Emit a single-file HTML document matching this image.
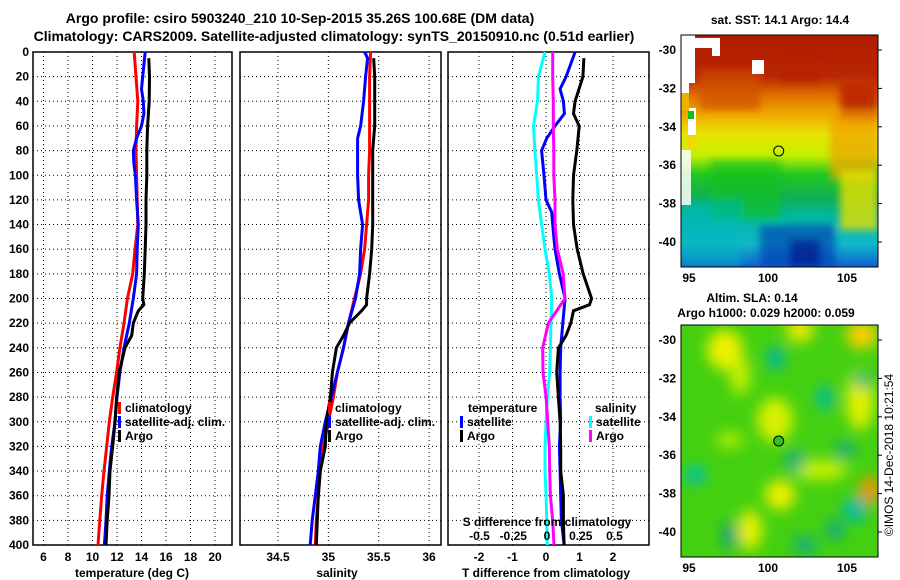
<!DOCTYPE html>
<html><head><meta charset="utf-8">
<style>
html,body{margin:0;padding:0;background:#fff;}
svg{display:block;font-family:"Liberation Sans",sans-serif;font-weight:bold;}
</style></head>
<body>
<svg id="c" width="900" height="580" viewBox="0 0 900 580">
<defs>
<linearGradient id="sstg" x1="0" y1="0" x2="0" y2="1">
<stop offset="0" stop-color="#b21a00"/><stop offset="0.18" stop-color="#b82800"/>
<stop offset="0.26" stop-color="#e07000"/><stop offset="0.34" stop-color="#f0a800"/>
<stop offset="0.43" stop-color="#e8e400"/><stop offset="0.52" stop-color="#c4f000"/>
<stop offset="0.6" stop-color="#20c820"/><stop offset="0.7" stop-color="#10b050"/>
<stop offset="0.78" stop-color="#00b8a0"/><stop offset="0.9" stop-color="#10b8c8"/>
<stop offset="1" stop-color="#1060d0"/></linearGradient>
<filter id="bl" x="-20%" y="-20%" width="140%" height="140%"><feGaussianBlur stdDeviation="7"/></filter>
<filter id="bl2" x="-20%" y="-20%" width="140%" height="140%"><feGaussianBlur stdDeviation="4"/></filter>
<clipPath id="m1"><rect x="681" y="35" width="197" height="232"/></clipPath>
<clipPath id="m2"><rect x="681" y="325" width="197" height="232"/></clipPath>
</defs>
<g id="titles" font-size="14" text-anchor="middle">
<text x="300" y="23">Argo profile: csiro 5903240_210 10-Sep-2015 35.26S 100.68E (DM data)</text>
<text x="334" y="41">Climatology: CARS2009. Satellite-adjusted climatology: synTS_20150910.nc (0.51d earlier)</text>
</g>
<g id="p1"></g>
<g id="p2"></g>
<g id="p3"></g>

<g>
<text x="780" y="24" font-size="12" text-anchor="middle">sat. SST: 14.1 Argo: 14.4</text>
<g clip-path="url(#m1)">
<rect x="681" y="35" width="197" height="232" fill="url(#sstg)"/>
<g filter="url(#bl2)">
<rect x="700" y="70" width="60" height="40" fill="#d05000" opacity="0.7"/>
<rect x="840" y="80" width="38" height="40" fill="#c02a00"/>
<rect x="780" y="60" width="40" height="20" fill="#b82000"/>
<rect x="830" y="110" width="48" height="70" fill="#f0a000" opacity="0.7"/>
<rect x="840" y="170" width="38" height="60" fill="#e8e000" opacity="0.8"/>
<rect x="710" y="160" width="70" height="60" fill="#10c020" opacity="0.6"/>
<rect x="760" y="225" width="75" height="42" fill="#0830b0" opacity="0.6"/>
<rect x="790" y="240" width="30" height="27" fill="#000a80" opacity="0.6"/>
<rect x="681" y="200" width="60" height="67" fill="#00b8c0" opacity="0.5"/>
</g>
<rect x="681" y="35" width="14" height="48" fill="#fff"/>
<rect x="681" y="83" width="8" height="25" fill="#fff"/>
<rect x="695" y="38" width="18" height="10" fill="#fff"/>
<rect x="712" y="38" width="8" height="18" fill="#fff"/>
<rect x="752" y="60" width="12" height="14" fill="#fff"/>
<rect x="688" y="108" width="8" height="30" fill="#fff"/>
<rect x="681" y="150" width="10" height="55" fill="#fff" opacity="0.85"/>
<rect x="681" y="93" width="8" height="18" fill="#f0b000"/>
<rect x="688" y="135" width="9" height="12" fill="#f0d800"/>
<rect x="688" y="111" width="6" height="8" fill="#10c010"/>
</g>
<rect x="681" y="35" width="197" height="232" fill="none" stroke="#000"/>
<circle cx="778.7" cy="151" r="5" fill="none" stroke="#000"/>
</g>

<g>
<text x="752" y="302" font-size="12" text-anchor="middle">Altim. SLA: 0.14</text>
<text x="766" y="317" font-size="12" text-anchor="middle">Argo h1000: 0.029 h2000: 0.059</text>
<g clip-path="url(#m2)">
<rect x="681" y="325" width="197" height="232" fill="#44d010"/>
<g filter="url(#bl)">
<ellipse cx="725" cy="350" rx="18" ry="20" fill="#f0f000"/>
<ellipse cx="800" cy="330" rx="14" ry="12" fill="#f0e800"/>
<ellipse cx="862" cy="335" rx="16" ry="14" fill="#f8d000"/>
<ellipse cx="860" cy="400" rx="14" ry="30" fill="#e0f000"/>
<ellipse cx="870" cy="490" rx="10" ry="14" fill="#f89000"/>
<ellipse cx="775" cy="420" rx="18" ry="22" fill="#d8f000"/>
<ellipse cx="780" cy="495" rx="15" ry="15" fill="#f0f000"/>
<ellipse cx="750" cy="530" rx="12" ry="20" fill="#e8f000"/>
<ellipse cx="740" cy="375" rx="10" ry="20" fill="#c8f000"/>
<ellipse cx="730" cy="440" rx="14" ry="8" fill="#b0ec00"/>
<ellipse cx="820" cy="470" rx="28" ry="10" fill="#c8f000"/>
<ellipse cx="776" cy="358" rx="9" ry="12" fill="#00b8a0"/>
<ellipse cx="825" cy="398" rx="8" ry="12" fill="#00b8b0"/>
<ellipse cx="795" cy="461" rx="9" ry="11" fill="#10a890"/>
<ellipse cx="695" cy="475" rx="11" ry="9" fill="#00c0b0"/>
<ellipse cx="855" cy="510" rx="12" ry="12" fill="#00b8b0"/>
<ellipse cx="835" cy="530" rx="9" ry="10" fill="#10a888"/>
<ellipse cx="805" cy="545" rx="12" ry="8" fill="#10a890"/>
<ellipse cx="730" cy="535" rx="8" ry="14" fill="#10a080"/>
<ellipse cx="862" cy="380" rx="8" ry="8" fill="#10a890"/>
<ellipse cx="845" cy="450" rx="10" ry="8" fill="#10a890"/>
</g>
</g>
<rect x="681" y="325" width="197" height="232" fill="none" stroke="#000"/>
<circle cx="778.7" cy="441" r="5" fill="#30c020" stroke="#000"/>
</g>
<text transform="translate(893,455) rotate(-90)" font-size="12" font-weight="normal" text-anchor="middle">©IMOS 14-Dec-2018 10:21:54</text>
<g id="maxes"></g>

<script>
// ---- data ----
var depths = [0,20,40,60,80,100,120,140,160,180,200,220,240,260,280,300,320,340,360,380,400];
var tempClim = [13.4,13.55,13.7,13.6,13.55,13.6,13.65,13.7,13.47,13.28,12.85,12.57,12.24,11.97,11.65,11.37,11.16,10.94,10.75,10.6,10.45];
var tempSatDepths = [0,20,30,40,50,60,70,80,90,100,120,140,160,180,200,220,240,260,280,300,320,340,360,380,400];
var tempSat = [14.3,14.1,14.0,14.15,14.2,14.0,13.6,13.33,13.37,13.5,13.6,13.74,13.65,13.6,13.33,13.0,12.57,12.24,12.0,11.84,11.57,11.37,11.2,11.1,10.97];
var argoDepths = [5,20,40,60,80,100,120,140,160,180,200,205,210,220,230,240,260,280,300,320,340,360,380,400];
var tempArgo = [14.6,14.65,14.63,14.5,14.43,14.43,14.37,14.37,14.3,14.23,14.1,14.2,13.74,13.33,13.2,12.65,12.18,11.97,11.84,11.65,11.43,11.35,11.2,11.1];
var salClim = [35.42,35.41,35.41,35.41,35.41,35.40,35.40,35.38,35.36,35.32,35.26,35.2,35.15,35.09,35.05,35.0,34.95,34.92,34.9,34.88,34.87];
var salSatDepths = [0,5,20,40,60,70,80,100,120,140,160,180,200,220,240,260,280,300,320,340,360,380,400];
var salSat = [35.36,35.39,35.37,35.35,35.32,35.29,35.29,35.29,35.3,35.34,35.32,35.31,35.27,35.2,35.15,35.09,35.03,34.97,34.92,34.9,34.87,34.84,34.82];
var salArgo = [35.45,35.46,35.46,35.46,35.44,35.44,35.44,35.44,35.43,35.41,35.38,35.38,35.33,35.21,35.15,35.08,35.04,35.02,34.98,34.97,34.92,34.9,34.89,34.88];
var dTDepths = [0,20,30,40,50,60,70,80,100,120,130,140,160,180,200,220,240,260,280,300,320,340,360,380,400];
var dTSat = [0.87,0.6,0.42,0.52,0.55,0.27,0.02,-0.13,-0.06,0,0.17,0.2,0.27,0.4,0.57,0.5,0.44,0.42,0.42,0.44,0.4,0.42,0.44,0.46,0.54];
var dTArgo = [1.13,1.1,0.87,0.82,0.99,0.92,0.82,0.8,0.82,0.93,1.11,1.36,1.3,0.82,0.74,0.6,0.37,0.32,0.37,0.42,0.44,0.44,0.52,0.52,0.54];
var dTArgoDepths = [5,20,40,50,60,80,100,120,140,160,180,200,205,210,220,230,240,260,280,300,320,340,360,380,400];
var dSSat = [-0.015,-0.064,-0.07,-0.1,-0.09,-0.076,-0.064,-0.04,-0.015,0.017,0.035,0.03,0.025,0.02,0.002,-0.007,-0.015,-0.015,-0.007,-0.002,0.002];
var dSArgo = [0.042,0.042,0.047,0.047,0.05,0.05,0.059,0.059,0.076,0.12,0.133,0.01,-0.032,-0.03,-0.007,0.005,0.017,0.02,0.025,0.042,0.052];
var depthTicks = [0,20,40,60,80,100,120,140,160,180,200,220,240,260,280,300,320,340,360,380,400];
var tempTicks = [6,8,10,12,14,16,18,20];
var salTicks = [34.5,35,35.5,36];
var salTickLabels = ["34.5","35","35.5","36"];
var dTTicks = [-2,-1,0,1,2];
var dSTicks = [-0.5,-0.25,0,0.25,0.5];
var dSTickLabels = ["-0.5","-0.25","0","0.25","0.5"];
var latTicks = [-30,-32,-34,-36,-38,-40];
var lonTicks = [95,100,105];

var NS = "http://www.w3.org/2000/svg";
function mk(parent, tag, attrs, text){
  var e = document.createElementNS(NS, tag);
  for (var k in attrs) e.setAttribute(k, attrs[k]);
  if (text !== undefined) e.textContent = text;
  parent.appendChild(e); return e;
}
var top0 = 52, bot0 = 545;
function yD(d){ return top0 + d*(bot0-top0)/400; }
function xT(t){ return 43.5 + (t-6)*12.25; }
function xS(s){ return 278 + (s-34.5)*100.7; }
function xdT(t){ return 546 + t*33.5; }
function xdS(s){ return 547 + s*135; }

function frame(g, x0, x1, vticks, vfun){
  depthTicks.forEach(function(d){
    var l = mk(g,'line',{x1:x0,x2:x1,y1:yD(d),y2:yD(d),stroke:'#000','stroke-width':1,'stroke-dasharray':'1,3'});
    
    
  });
  vticks.forEach(function(v){
    var l = mk(g,'line',{x1:vfun(v),x2:vfun(v),y1:top0,y2:bot0,stroke:'#000','stroke-width':1,'stroke-dasharray':'1,3'});
    
    
  });
  var r = mk(g,'rect',{x:x0,y:top0,width:x1-x0,height:bot0-top0,fill:'none',stroke:'#000','stroke-width':1.5});
  
  
}
function line(g, ds, vs, fx, color, name){
  var pts = ds.map(function(d,i){ return fx(vs[i]).toFixed(1)+','+yD(d).toFixed(1); }).join(' ');
  var p = mk(g,'polyline',{points:pts,fill:'none',stroke:color,'stroke-width':3,'stroke-linejoin':'miter'});
  
  
}
function legend(g, x, y, color, label, name){
  var r = mk(g,'rect',{x:x,y:y-10,width:3,height:12,fill:color});
  
  
  var t = mk(g,'text',{x:x+7,y:y,'font-size':12},label);
  
  
}

// Panel 1
var p1 = document.getElementById('p1');
frame(p1, 33, 232, tempTicks, xT);
depthTicks.forEach(function(d){
  var t = mk(p1,'text',{x:29,y:yD(d)+4,'font-size':12,'text-anchor':'end'}, String(d));
  
  
});
tempTicks.forEach(function(v){
  var t = mk(p1,'text',{x:xT(v),y:561,'font-size':12,'text-anchor':'middle'}, String(v));
  
  
});
var at1 = mk(p1,'text',{x:132,y:577,'font-size':12,'text-anchor':'middle'},'temperature (deg C)');


line(p1, depths, tempClim, xT, '#ff0000', 'temp-climatology-line');
line(p1, tempSatDepths, tempSat, xT, '#0000ff', 'temp-satellite-line');
line(p1, argoDepths, tempArgo, xT, '#000000', 'temp-argo-line');
legend(p1, 118, 412, '#ff0000', 'climatology', 'legend-climatology');
legend(p1, 118, 426, '#0000ff', 'satellite-adj. clim.', 'legend-satellite');
legend(p1, 118, 440, '#000000', 'Argo', 'legend-argo');

// Panel 2
var p2 = document.getElementById('p2');
frame(p2, 240, 441, salTicks, xS);
salTicks.forEach(function(v,i){
  var t = mk(p2,'text',{x:xS(v),y:561,'font-size':12,'text-anchor':'middle'}, salTickLabels[i]);
  
  
});
var at2 = mk(p2,'text',{x:337,y:577,'font-size':12,'text-anchor':'middle'},'salinity');


line(p2, depths, salClim, xS, '#ff0000', 'sal-climatology-line');
line(p2, salSatDepths, salSat, xS, '#0000ff', 'sal-satellite-line');
line(p2, argoDepths, salArgo, xS, '#000000', 'sal-argo-line');
legend(p2, 328, 412, '#ff0000', 'climatology', 'legend2-climatology');
legend(p2, 328, 426, '#0000ff', 'satellite-adj. clim.', 'legend2-satellite');
legend(p2, 328, 440, '#000000', 'Argo', 'legend2-argo');

// Panel 3
var p3 = document.getElementById('p3');
frame(p3, 448, 649, dTTicks, xdT);
dTTicks.forEach(function(v){
  var t = mk(p3,'text',{x:xdT(v),y:561,'font-size':12,'text-anchor':'middle'}, String(v));
  
  
});
var at3 = mk(p3,'text',{x:546,y:577,'font-size':12,'text-anchor':'middle'},'T difference from climatology');


line(p3, dTDepths, dTSat, xdT, '#0000ff', 'tdiff-satellite-line');
line(p3, dTArgoDepths, dTArgo, xdT, '#000000', 'tdiff-argo-line');
line(p3, depths, dSSat, xdS, '#00ffff', 'sdiff-satellite-line');
line(p3, depths, dSArgo, xdS, '#ff00ff', 'sdiff-argo-line');
var st = mk(p3,'text',{x:547,y:526,'font-size':12,'text-anchor':'middle'},'S difference from climatology');


dSTicks.forEach(function(v,i){
  var t = mk(p3,'text',{x:xdS(v),y:540,'font-size':12,'text-anchor':'middle'}, dSTickLabels[i]);
  
  
});
var lt = mk(p3,'text',{x:468,y:412,'font-size':12},'temperature');


var ls = mk(p3,'text',{x:595,y:412,'font-size':12},'salinity');


legend(p3, 460, 426, '#0000ff', 'satellite', 'legend3-tsat');
legend(p3, 460, 440, '#000000', 'Argo', 'legend3-targo');
legend(p3, 589, 426, '#00ffff', 'satellite', 'legend3-ssat');
legend(p3, 589, 440, '#ff00ff', 'Argo', 'legend3-sargo');

// Map axes
var ma = document.getElementById('maxes');
function latY(lat, top){ return top + 15 + (-30-lat)*19.2; }
function lonX(lon){ return 689 + (lon-95)*15.8; }
[[35,282],[325,572]].forEach(function(m){
  latTicks.forEach(function(lat){
    var y = latY(lat, m[0]);
    var t = mk(ma,'text',{x:676,y:y+4,'font-size':12,'text-anchor':'end'}, String(lat));
    
    
    mk(ma,'line',{x1:878,x2:882,y1:y,y2:y,stroke:'#000'});
  });
  lonTicks.forEach(function(lon){
    var t = mk(ma,'text',{x:lonX(lon),y:m[1],'font-size':12,'text-anchor':'middle'}, String(lon));
    
    
  });
});
</script>
</svg>
</body></html>
